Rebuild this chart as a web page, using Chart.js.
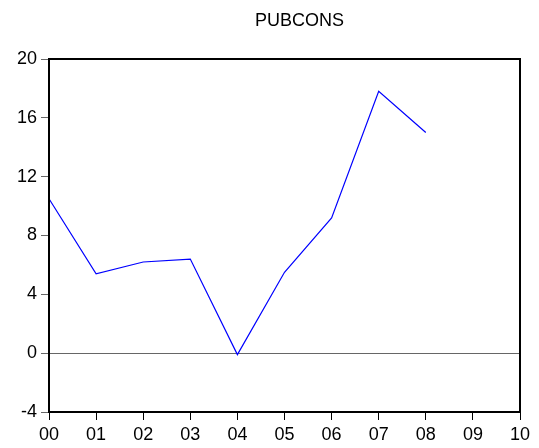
<!DOCTYPE html>
<html>
<head>
<meta charset="utf-8">
<script src="https://cdn.jsdelivr.net/npm/chart.js@4/dist/chart.umd.min.js"></script>
<style>
  html, body { margin: 0; padding: 0; background: #fff; }
  #wrap { width: 539px; height: 448px; }
</style>
</head>
<body>
<div id="wrap"><canvas id="chart" width="539" height="448"></canvas></div>
<script>
// Data: years on the x axis, PUBCONS values (09 and 10 have no data)
const chartTitle = "PUBCONS";
const yearLabels = ["00", "01", "02", "03", "04", "05", "06", "07", "08", "09", "10"];
const pubconsValues = [10.5, 5.4, 6.2, 6.4, -0.1, 5.5, 9.2, 17.8, 15.0, null, null];
const yTickValues = [-4, 0, 4, 8, 12, 16, 20];

const FONT = "Liberation Sans, Arial, sans-serif";

// Plugins: title, box around the plot area and the zero reference line
const framePlugin = {
  id: "frame",
  beforeDatasetsDraw(chart) {
    const ctx = chart.ctx;
    const y0 = chart.scales.y.getPixelForValue(0);
    const a = chart.chartArea;
    ctx.save();
    ctx.strokeStyle = "#666";
    ctx.lineWidth = 1;
    ctx.beginPath();
    ctx.moveTo(a.left, Math.round(y0) + 0.5);
    ctx.lineTo(a.right, Math.round(y0) + 0.5);
    ctx.stroke();
    ctx.restore();
  },
  afterDraw(chart) {
    const ctx = chart.ctx;
    const a = chart.chartArea;
    ctx.save();
    ctx.strokeStyle = "#000";
    ctx.lineWidth = 2;
    ctx.strokeRect(a.left, a.top, a.right - a.left, a.bottom - a.top);

    //title sits a little right of the plot centre, as in the original
    ctx.fillStyle = "#000";
    ctx.font = "18px " + FONT;
    ctx.textAlign = "center";
    ctx.textBaseline = "alphabetic";
    ctx.fillText(chartTitle, 299.5, 26);
    ctx.restore();
  }
};

new Chart(document.getElementById("chart"), {
  type: "line",
  data: {
    labels: yearLabels,
    datasets: [{
      data:        pubconsValues,
      borderColor: "#0000ff",
      borderWidth: 1.2,
      pointRadius: 0,
      tension:     0,
      spanGaps:    false,
    }],
  },
  options: {
    responsive: false,
    animation:  false,
    layout: { padding: { top: 59, right: 19, left: 0, bottom: 0 } },
    plugins: {
      legend:  { display: false },
      tooltip: { enabled: false },
      title:   { display: false },
    },
    scales: {
      x: {
        type:   "category",
        offset: false,
        grid:   { drawOnChartArea: false, drawTicks: true, tickLength: 8, color: "#000", lineWidth: 1 },
        border: { display: false },
        ticks:  { color: "#000", padding: 4, maxRotation: 0, autoSkip: false,
                  font: { family: FONT, size: 18 } },
        afterFit(scale) { scale.height = 36; },
      },
      y: {
        min: -4,
        max: 20,
        afterBuildTicks(scale) { scale.ticks = yTickValues.map(v => ({ value: v })); },
        grid:   { drawOnChartArea: false, drawTicks: true, tickLength: 8, color: "#666", lineWidth: 1 },
        border: { display: false },
        ticks:  { color: "#000", padding: 4,
                  font: { family: FONT, size: 18 } },
        afterFit(scale) { scale.width = 49; },
      },
    },
  },
  plugins: [framePlugin],
});
</script>
</body>
</html>
